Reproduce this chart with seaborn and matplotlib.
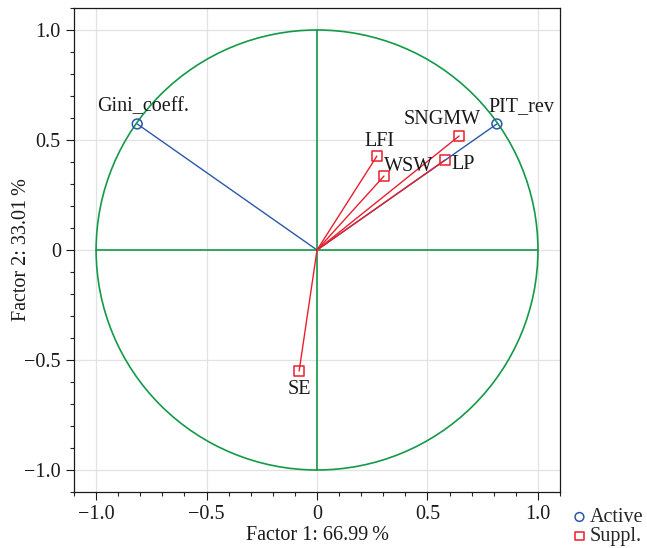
import numpy as np
import pandas as pd
import matplotlib.pyplot as plt
import seaborn as sns
from matplotlib.patches import Circle
from matplotlib.ticker import MultipleLocator

# Variable coordinates on factor 1 / factor 2
names = ['Gini_coeff.', 'PIT_rev', 'SNGMW', 'LFI', 'WSW', 'LP', 'SE']
f1 = [-0.814, 0.814, 0.643, 0.271, 0.303, 0.579, -0.081]
f2 = [0.573, 0.573, 0.518, 0.427, 0.336, 0.409, -0.550]
kind = ['Active', 'Active', 'Suppl.', 'Suppl.', 'Suppl.', 'Suppl.', 'Suppl.']

tick_vals = [-1.0, -0.5, 0, 0.5, 1.0]
tick_labels = ['\u22121.0', '\u22120.5', '0', '0.5', '1.0']

df = pd.DataFrame({'name': names, 'f1': f1, 'f2': f2, 'kind': kind})

sns.set_style('white')
plt.rcParams['font.family'] = ['Liberation Serif', 'DejaVu Serif']

blue = '#2a58a8'
red = '#e8202e'
green = '#139a48'
ink = '#1a1a1a'
fs = 14.5

fig = plt.figure(figsize=(6.47, 5.48), dpi=100)
ax = fig.add_axes([0.1144, 0.1022, 0.7512, 0.8832])
ax.grid(False)

for v in tick_vals:
    ax.axvline(v, color='#e2e2e2', lw=0.9, zorder=0)
    ax.axhline(v, color='#e2e2e2', lw=0.9, zorder=0)

ax.add_patch(Circle((0, 0), 1.0, fill=False, color=green, lw=1.2, zorder=1))
ax.plot([-1, 1], [0, 0], color=green, lw=1.2, zorder=1)
ax.plot([0, 0], [-1, 1], color=green, lw=1.2, zorder=1)

for _, r in df.iterrows():
    c = blue if r['kind'] == 'Active' else red
    ax.plot([0, r['f1']], [0, r['f2']], color=c, lw=1.0, zorder=2)

sns.scatterplot(data=df, x='f1', y='f2', hue='kind', style='kind',
                markers={'Active': 'o', 'Suppl.': 's'},
                palette={'Active': blue, 'Suppl.': red},
                s=50, linewidth=1.1, ax=ax, zorder=3, legend=False)
# open markers
for coll in ax.collections:
    coll.set_facecolor('none')
    coll.set_edgecolor([blue if k == 'Active' else red for k in kind])

label_pos = {
    'Gini_coeff.': (0.025, 0.035, 'center', 'bottom'),
    'PIT_rev': (-0.036, 0.035, 'left', 'bottom'),
    'SNGMW': (-0.077, 0.03, 'center', 'bottom'),
    'LFI': (0.01, 0.025, 'center', 'bottom'),
    'WSW': (0.0, 0.0, 'left', 'bottom'),
    'LP': (0.03, -0.02, 'left', 'center'),
    'SE': (0.0, -0.04, 'center', 'top'),
}
for n, x, y in zip(names, f1, f2):
    dx, dy, ha, va = label_pos[n]
    ax.text(x + dx, y + dy, n, ha=ha, va=va, fontsize=fs, color=ink)

ax.set_xlim(-1.1, 1.1)
ax.set_ylim(-1.1, 1.1)
ax.set_xticks(tick_vals)
ax.set_xticklabels(tick_labels)
ax.set_yticks(tick_vals)
ax.set_yticklabels(tick_labels)
ax.xaxis.set_minor_locator(MultipleLocator(0.1))
ax.yaxis.set_minor_locator(MultipleLocator(0.1))
ax.tick_params(which='major', direction='out', length=6, width=0.8,
               labelsize=fs, colors=ink, bottom=True, left=True)
ax.tick_params(which='minor', direction='out', length=3, width=0.8,
               bottom=True, left=True)
for sp in ax.spines.values():
    sp.set_color(ink)
    sp.set_linewidth(0.9)

ax.set_xlabel('Factor 1: 66.99\u2009%', fontsize=fs, color=ink, labelpad=1)
ax.set_ylabel('Factor 2: 33.01\u2009%', fontsize=fs, color=ink)
ax.yaxis.set_label_coords(-0.088, 0.5)

# legend outside bottom right
h1 = ax.scatter([], [], marker='o', facecolors='none', edgecolors=blue, s=40, linewidths=1.1)
h2 = ax.scatter([], [], marker='s', facecolors='none', edgecolors=red, s=40, linewidths=1.1)
fig.legend([h1, h2], ['Active', 'Suppl.'], loc='lower left',
           bbox_to_anchor=(0.88, 0.003), frameon=False, fontsize=14.5,
           handletextpad=0.0, labelspacing=0.0, borderpad=0.0,
           borderaxespad=0.0, handlelength=1.0)

fig.savefig('out.png', dpi=100)
